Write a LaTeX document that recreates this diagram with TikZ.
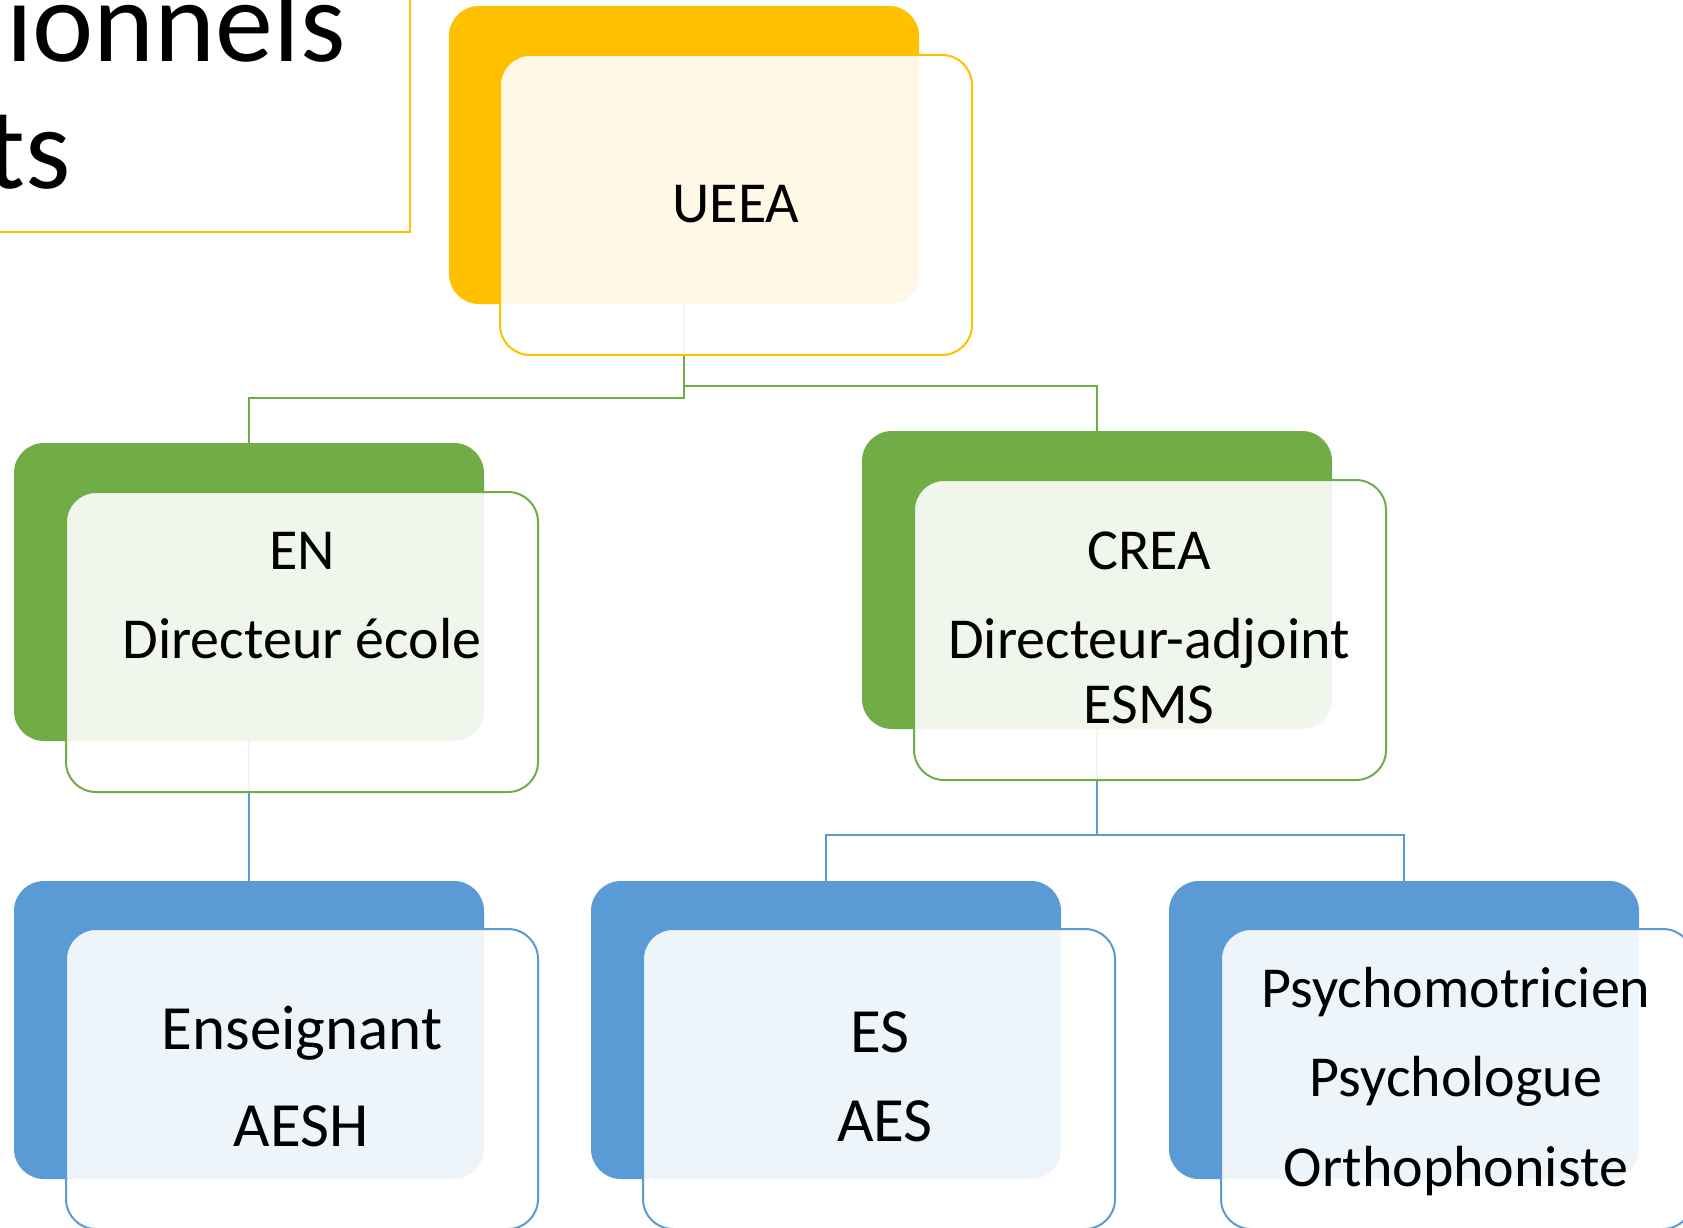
\documentclass[tikz,border=0pt]{standalone}
\usepackage{fontspec}
\setmainfont{Carlito}
\usetikzlibrary{calc}
\definecolor{gold}{HTML}{FFC000}
\definecolor{leaf}{HTML}{70AD47}
\definecolor{sky}{HTML}{5B9BD5}
\begin{document}
\begin{tikzpicture}[x=1pt,y=-1pt,
  backbox/.style={rounded corners=30pt, fill=#1, inner sep=0pt, outer sep=0pt, minimum width=470pt, minimum height=298pt, anchor=north west},
  frontbox/.style={rounded corners=30pt, draw=#1, line width=2pt, fill=white, fill opacity=0.9, inner sep=0pt, outer sep=0pt, minimum width=472pt, minimum height=300pt, anchor=north west},
  lbl/.style={anchor=base, inner sep=0pt, font=\fontsize{58}{60}\selectfont},
  lblbig/.style={anchor=base, inner sep=0pt, font=\fontsize{63}{66}\selectfont},
  conn/.style={line width=2.5pt, draw=#1},
]
\useasboundingbox (0,0) rectangle (1683,1228);
\fill[white] (0,0) rectangle (1683,1228);

% title box (partly off page)
\node[draw=gold, line width=2pt, inner sep=0pt, outer sep=0pt, minimum width=440pt, minimum height=260pt, anchor=south east] (title) at (410,232) {};
\node[anchor=base west, inner sep=0pt, font=\fontsize{116}{126}\selectfont] (t1) at (6,62) {ionnels};
\node[anchor=base east, inner sep=0pt, font=\fontsize{116}{126}\selectfont] (t2) at (71,188) {ts};

% back boxes as coordinates
\coordinate (pU) at (449,6);
\coordinate (pEN) at (14,443);
\coordinate (pCR) at (862,431);
\coordinate (pEnS) at (14,881);
\coordinate (pES) at (591,881);
\coordinate (pPS) at (1169,881);

% back box frames (named), filled later
\node[backbox=gold, fill=none] (ueeaB) at (pU) {};
\node[backbox=leaf, fill=none] (enB) at (pEN) {};
\node[backbox=leaf, fill=none] (creaB) at (pCR) {};
\node[backbox=sky, fill=none] (ensB) at (pEnS) {};
\node[backbox=sky, fill=none] (esB) at (pES) {};
\node[backbox=sky, fill=none] (psyB) at (pPS) {};

% connectors (behind boxes)
\draw[conn=leaf] (ueeaB.south) -- (ueeaB.south |- 0,398) -| (enB.north);
\draw[conn=leaf] (ueeaB.south) -- (ueeaB.south |- 0,386) -| (creaB.north);
\draw[conn=sky] (enB.south) -- (ensB.north);
\draw[conn=sky] (creaB.south) -- (creaB.south |- 0,835) -| (esB.north);
\draw[conn=sky] (creaB.south) -- (creaB.south |- 0,835) -| (psyB.north);

% filled back boxes
\fill[gold, rounded corners=30pt] (ueeaB.north west) rectangle (ueeaB.south east);
\fill[leaf, rounded corners=30pt] (enB.north west) rectangle (enB.south east);
\fill[leaf, rounded corners=30pt] (creaB.north west) rectangle (creaB.south east);
\fill[sky, rounded corners=30pt] (ensB.north west) rectangle (ensB.south east);
\fill[sky, rounded corners=30pt] (esB.north west) rectangle (esB.south east);
\fill[sky, rounded corners=30pt] (psyB.north west) rectangle (psyB.south east);

% front boxes
\node[frontbox=gold] (ueea) at ($(pU)+(51,49)$) {};
\node[frontbox=leaf] (en) at ($(pEN)+(52,49)$) {};
\node[frontbox=leaf] (crea) at ($(pCR)+(52,49)$) {};
\node[frontbox=sky] (ens) at ($(pEnS)+(52,48)$) {};
\node[frontbox=sky] (es) at ($(pES)+(52,48)$) {};
\node[frontbox=sky] (psy) at ($(pPS)+(52,48)$) {};

% labels
\node[lbl] (lU) at (736,222) {UEEA};
\node[lbl] (lEN1) at (302,569) {EN};
\node[lbl] (lEN2) at (302,658) {Directeur école};
\node[lbl] (lCR1) at (1149,569) {CREA};
\node[lbl] (lCR2) at (1149,658) {Directeur-adjoint};
\node[lbl] (lCR3) at (1149,723) {ESMS};
\node[lblbig] (lEn1) at (302,1049) {Enseignant};
\node[lblbig] (lEn2) at (301,1146) {AESH};
\node[lblbig] (lES1) at (880,1052) {ES};
\node[lblbig] (lES2) at (885,1141) {AES};
\node[lbl] (lP1) at (1456,1007) {Psychomotricien};
\node[lbl] (lP2) at (1456,1096) {Psychologue};
\node[lbl] (lP3) at (1456,1186) {Orthophoniste};
\end{tikzpicture}
\end{document}
